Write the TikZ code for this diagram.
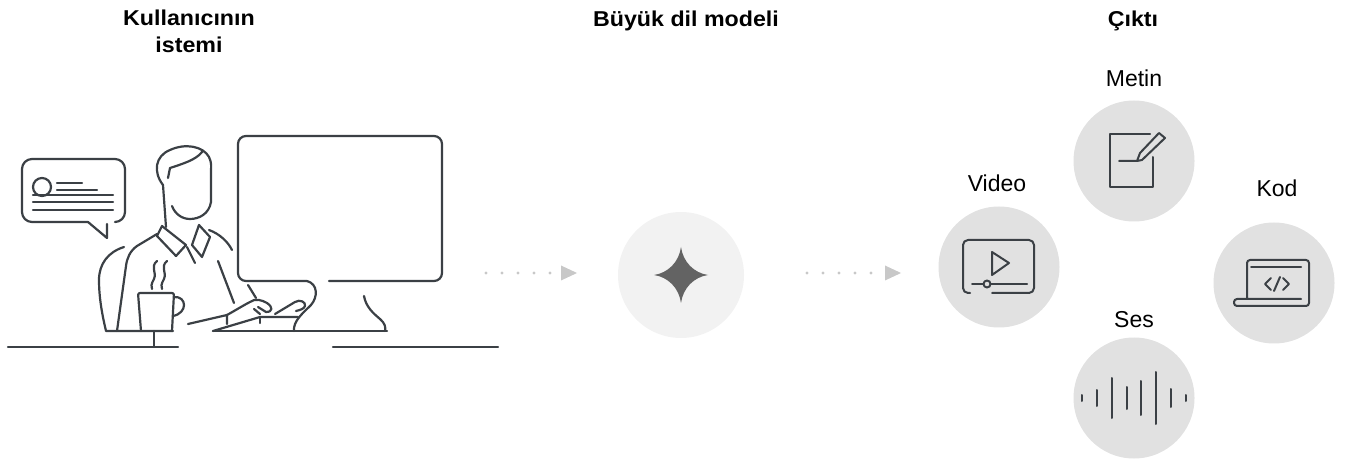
\documentclass[tikz,border=0pt]{standalone}
\usepackage{fontspec}
\setmainfont{Liberation Sans}
\newfontfamily\headfont{Liberation Sans}[FakeStretch=1.08]
\usetikzlibrary{arrows.meta}

\definecolor{ink}{HTML}{3B4045}
\definecolor{disc}{HTML}{E1E1E1}
\definecolor{llmdisc}{HTML}{F2F2F2}
\definecolor{starfill}{HTML}{636363}
\definecolor{dotgray}{HTML}{C8C8C8}

\tikzset{
  stroke/.style={draw=ink, line width=2.2pt, line cap=round, line join=round},
  icon/.style={draw=ink, line width=2pt, line cap=round, line join=round},
  heading/.style={font=\headfont\bfseries\fontsize{21.5}{27}\selectfont, align=center, anchor=base},
  caption/.style={font=\fontsize{23}{27}\selectfont, anchor=base},
  outcircle/.style={circle, fill=disc, minimum size=121pt, inner sep=0pt},
  flow/.style={draw=dotgray, line width=3.3pt, line cap=round, dash pattern=on 0pt off 16pt,
    -{Triangle[length=16pt,width=15pt,line width=0pt]}},
}

\begin{document}
\begin{tikzpicture}[x=1pt, y=-1pt]
\useasboundingbox (0,0) rectangle (1363,462);

% column headings (base of a two-line node sits on its last line)
\node[heading] (hUser) at (189,53) {Kullanıcının\\istemi};
\node[heading] (hModel) at (686,27) {Büyük dil modeli};
\node[heading] (hOut) at (1133,27) {Çıktı};

% speech bubble
\draw[stroke, rounded corners=10pt] (115,222) -- (125,222) -- (125,159) -- (22,159) -- (22,222) -- (88,222);
\draw[stroke] (88,222) -- (107,238) -- (107,224);
\draw[stroke] (42,187) circle (9);
\draw[stroke] (57,183) -- (82,183);
\draw[stroke] (57,190) -- (97,190);
\foreach \y in {195,202,210}
  \draw[stroke] (33,\y) -- (113,\y);

% head
\draw[stroke] (166,227) -- (163,185) .. controls (153,172) and (155,156) .. (170,150)
  .. controls (185,143) and (203,146) .. (209,157) .. controls (212,163) and (211,168) .. (211,170)
  -- (211,202) .. controls (209,214) and (199,219) .. (190,219) .. controls (182,219) and (175,214) .. (172,206);
\draw[stroke] (168,178) -- (170,168) .. controls (182,164) and (196,160) .. (202,152);

% collar and shirt
\draw[stroke] (162,226) -- (157,236) -- (176,256) -- (186,245) -- cycle;
\draw[stroke] (199,225) -- (210,237) -- (202,257) -- (192,245) -- cycle;
\draw[stroke] (187,247) -- (195,263);
\draw[stroke] (157,234) -- (137,246) .. controls (130,251) and (127,258) .. (126,266) -- (117,331);
\draw[stroke] (209,230) .. controls (220,234) and (228,242) .. (232,250);
\draw[stroke] (218,261) -- (234,303);
\draw[stroke] (248,285) -- (256,298);

% chair
\draw[stroke] (124,247) .. controls (108,252) and (99,264) .. (99,280)
  .. controls (99,300) and (103,318) .. (106,331) -- (173,331);
\draw[stroke] (154,331) -- (154,347);

% cup and steam
\draw[stroke, rounded corners=2pt] (141,331) -- (138,293) -- (174,293) -- (172,331);
\draw[stroke] (174,297) .. controls (187,296) and (188,313) .. (173,316);
\draw[stroke] (157,261) .. controls (150,267) and (157,272) .. (154,279) .. controls (151,284) and (151,287) .. (152,289);
\draw[stroke] (167,261) .. controls (160,267) and (167,272) .. (164,279) .. controls (161,284) and (161,287) .. (162,289);

% arms and hands
\draw[stroke] (188,324) -- (227,315) -- (227,324);
\draw[stroke] (227,315) .. controls (236,310) and (244,305) .. (250,302) .. controls (255,298) and (262,300) .. (267,303)
  .. controls (273,307) and (273,312) .. (266,312) -- (258,307);
\draw[stroke] (254,309) -- (260,314);
\draw[stroke] (260,317) -- (260,323);
\draw[stroke] (275,314) -- (295,302) .. controls (300,299) and (306,302) .. (305,306) .. controls (304,309) and (300,310) .. (296,311);
\draw[stroke] (307,281) .. controls (318,284) and (318,297) .. (311,305) .. controls (303,313) and (293,321) .. (294,331);
\draw[stroke] (213,331) -- (260,317) -- (298,317);

% monitor and desk
\draw[stroke, rounded corners=8pt] (307,281) -- (238,281) -- (238,136) -- (442,136) -- (442,281) -- (329,281);
\draw[stroke] (364,296) .. controls (366,307) and (373,313) .. (380,319) .. controls (385,323) and (386,328) .. (385,331);
\draw[stroke] (213,331) -- (387,331);
\draw[stroke] (8,347) -- (178,347);
\draw[stroke] (333,347) -- (498,347);

% model
\node[circle, fill=llmdisc, minimum size=126pt, inner sep=0pt] (llm) at (681,275) {};
\fill[starfill, shift={(llm.center)}] (0,-28) .. controls (2,-13) and (13,-2) .. (27,0)
  .. controls (13,2) and (2,13) .. (0,28) .. controls (-2,13) and (-13,2) .. (-27,0)
  .. controls (-13,-2) and (-2,-13) .. cycle;

% flow arrows
\coordinate (inA) at (486,273);
\coordinate (inB) at (577,273);
\coordinate (outA) at (807,273);
\coordinate (outB) at (901,273);
\draw[flow] (inA) -- (inB);
\draw[flow] (outA) -- (outB);

% outputs
\node[outcircle] (metin) at (1134,161) {};
\node[outcircle] (video) at (999,267) {};
\node[outcircle] (kod) at (1274,283) {};
\node[outcircle] (ses) at (1134,398) {};
\node[caption] (metinLbl) at (1134,87) {Metin};
\node[caption] (videoLbl) at (997,192) {Video};
\node[caption] (kodLbl) at (1277,197) {Kod};
\node[caption] (sesLbl) at (1134,327) {Ses};

% text icon
\draw[icon] (1150,134) -- (1110,134) -- (1110,187) -- (1153,187) -- (1153,157);
\draw[icon] (1119,161) -- (1137,161) -- (1140,153) -- (1159,133) -- (1165,138) -- (1142,160) -- (1137,161);

% video icon
\draw[icon, rounded corners=5pt] (970,293) -- (963,293) -- (963,240) -- (1034,240) -- (1034,293) -- (992,293);
\draw[icon] (992,252) -- (1009,263) -- (992,275) -- cycle;
\draw[icon] (972,284) -- (1027,284);
\draw[icon, fill=disc] (987,284) circle (3.5);

% code icon
\draw[icon, rounded corners=3pt] (1247,298) -- (1247,260) -- (1309,260) -- (1309,306) -- (1234,306) -- (1234,299) -- (1301,299);
\draw[icon] (1251,267) -- (1301,267);
\draw[icon] (1271,278) -- (1265,284) -- (1271,290);
\draw[icon] (1283,278) -- (1289,284) -- (1283,290);
\draw[icon] (1280,277) -- (1274,291);

% audio icon
\foreach \x/\h in {1082/3,1097/8,1112/20,1127/11,1141/17,1156/26,1171/9,1186/3}
  \draw[icon] (\x,{398-\h}) -- (\x,{398+\h});
\end{tikzpicture}
\end{document}
